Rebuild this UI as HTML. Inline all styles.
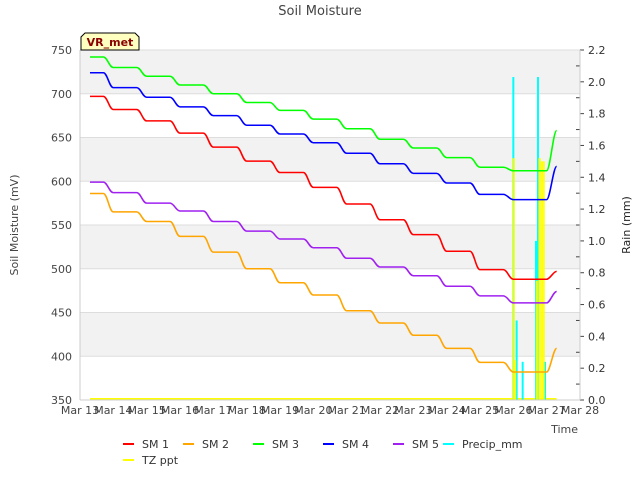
<!DOCTYPE html>
<html><head><meta charset="utf-8"><style>
body{margin:0;background:#fff;font-family:"Liberation Sans","DejaVu Sans",sans-serif;}
svg text{font-family:"DejaVu Sans","Liberation Sans",sans-serif;}
</style></head><body>
<svg id="chart" width="640" height="480" xmlns="http://www.w3.org/2000/svg">
<text x="320" y="15" text-anchor="middle" font-size="13" fill="#444">Soil Moisture</text>
<g id="bands"></g><g id="grid"></g><g id="rain"></g><g id="lines"></g><g id="axes"></g><g id="legend"></g>
<g>
<path d="M81,50 L81,37 L85,33 L135,33 L139,37 L139,50 Z" fill="#ffffc0" stroke="#000" stroke-width="1"/>
<text x="110" y="46" text-anchor="middle" font-size="11" font-weight="bold" fill="#8b0000">VR_met</text></g>
</svg>
<script>
const sm1=[697,682,669,655,639,623,610,593,574,556,539,520,499,488,497];
const sm2=[586,565,554,537,519,500,484,470,452,438,424,409,393,382,409];
const sm3=[742,730,720,710,700,690,681,671,660,648,638,627,616,612,658];
const sm4=[724,707,696,685,675,664,654,644,632,620,609,598,585,579,617];
const sm5=[599,587,575,566,554,543,534,524,512,502,492,480,469,461,474];
const precipT=[26.0,26.1,26.28,26.68,26.74,26.95];
const precipV=[2.03,0.5,0.24,1.0,2.03,0.24];
const tzT=[26.0,26.04,26.7,26.78,26.85,26.9];
const tzV=[1.52,0.25,0.75,1.52,1.5,1.5];
const yTicks=[350,400,450,500,550,600,650,700,750];
const y2Ticks=[0,0.2,0.4,0.6,0.8,1.0,1.2,1.4,1.6,1.8,2.0,2.2];
const xLabels=["Mar 13","Mar 14","Mar 15","Mar 16","Mar 17","Mar 18","Mar 19","Mar 20","Mar 21","Mar 22","Mar 23","Mar 24","Mar 25","Mar 26","Mar 27","Mar 28"];
const X=t=>80+(t-13)*500/15, Y=v=>400-(v-350)*350/400, Y2=v=>400-v*350/2.2;
const NS="http://www.w3.org/2000/svg";
function mk(tag,attrs,parent){const e=document.createElementNS(NS,tag);for(const k in attrs)e.setAttribute(k,attrs[k]);document.getElementById(parent).appendChild(e);return e;}
for(let i=1;i<yTicks.length-1;i+=2){const r=mk('rect',{x:80,y:Y(yTicks[i]+50),width:500,height:Y(yTicks[i])-Y(yTicks[i]+50),fill:'#f2f2f2'},'bands');

}
yTicks.forEach(v=>{mk('line',{x1:80,x2:580,y1:Y(v),y2:Y(v),stroke:'#ddd'},'grid');
const t=mk('text',{x:72,y:Y(v)+4,'text-anchor':'end','font-size':11,fill:'#444'},'axes');t.textContent=v;

});
y2Ticks.forEach(v=>{mk('line',{x1:580,x2:584,y1:Y2(v),y2:Y2(v),stroke:'#444'},'axes');
if(v<2.15)mk('line',{x1:576,x2:580,y1:Y2(v+0.1),y2:Y2(v+0.1),stroke:'#444'},'axes');
const t=mk('text',{x:588,y:Y2(v)+4,'font-size':11,fill:'#333'},'axes');t.textContent=v.toFixed(1);

});
xLabels.forEach((l,i)=>{const t=mk('text',{x:X(13+i),y:414,'text-anchor':'middle','font-size':11,fill:'#444'},'axes');t.textContent=l;

});
mk('line',{x1:80,x2:80,y1:50,y2:400,stroke:'#ccc'},'axes');mk('line',{x1:80,x2:580,y1:400,y2:400,stroke:'#ccc'},'axes');mk('line',{x1:580,x2:580,y1:50,y2:400,stroke:'#ccc'},'axes');
let t=mk('text',{x:18,y:225,'text-anchor':'middle','font-size':11,fill:'#444',transform:'rotate(-90 18 225)'},'axes');t.textContent='Soil Moisture (mV)';

t=mk('text',{x:630,y:225,'text-anchor':'middle','font-size':11,fill:'#222',transform:'rotate(-90 630 225)'},'axes');t.textContent='Rain (mm)';

t=mk('text',{x:578,y:433,'text-anchor':'end','font-size':11,fill:'#444'},'axes');t.textContent='Time';

let zl=mk('line',{x1:X(13.3),x2:X(27.3),y1:399,y2:399,stroke:'#ffff00','stroke-width':2},'rain');

precipT.forEach((tt,i)=>{const b=mk('rect',{x:X(tt)-1,y:Y2(precipV[i]),width:2,height:400-Y2(precipV[i]),fill:'#00ffff'},'rain');
});
tzT.forEach((tt,i)=>{const b=mk('rect',{x:X(tt)-1,y:Y2(tzV[i]),width:2.5,height:400-Y2(tzV[i]),fill:'#ffff00','fill-opacity':0.85},'rain');
});
function path(arr){const n=arr.length;let d='M'+X(13.3)+','+Y(arr[0]);
for(let i=0;i<n-2;i++){const d0=13+i;
d+='L'+X(d0+0.7)+','+Y(arr[i])+'C'+X(d0+0.82)+','+Y(arr[i])+' '+X(d0+0.88)+','+Y(arr[i+1])+' '+X(d0+1)+','+Y(arr[i+1]);}
d+='L'+X(27.0)+','+Y(arr[n-2])+'C'+X(27.1)+','+Y(arr[n-2])+' '+X(27.2)+','+Y(arr[n-1])+' '+X(27.3)+','+Y(arr[n-1]);
return d;}
const series=[["SM 1",sm1,"#ff0000"],["SM 2",sm2,"#ffa500"],["SM 3",sm3,"#00ff00"],["SM 4",sm4,"#0000ff"],["SM 5",sm5,"#a020f0"]];
series.forEach(s=>{const p=mk('path',{d:path(s[1]),fill:'none',stroke:s[2],'stroke-width':1.6},'lines');
});
const leg=[["SM 1","#ff0000",123,444],["SM 2","#ffa500",183,444],["SM 3","#00ff00",253,444],["SM 4","#0000ff",323,444],["SM 5","#a020f0",393,444],["Precip_mm","#00ffff",443,444],["TZ ppt","#ffff00",123,460]];
leg.forEach(l=>{const g=mk('g',{},'legend');

const ln=document.createElementNS(NS,'line');ln.setAttribute('x1',l[2]);ln.setAttribute('x2',l[2]+11);ln.setAttribute('y1',l[3]);ln.setAttribute('y2',l[3]);ln.setAttribute('stroke',l[1]);ln.setAttribute('stroke-width',2);g.appendChild(ln);
const tx=document.createElementNS(NS,'text');tx.setAttribute('x',l[2]+19);tx.setAttribute('y',l[3]+4);tx.setAttribute('font-size',11);tx.setAttribute('fill','#333');tx.textContent=l[0];g.appendChild(tx);});
</script>
</body></html>
